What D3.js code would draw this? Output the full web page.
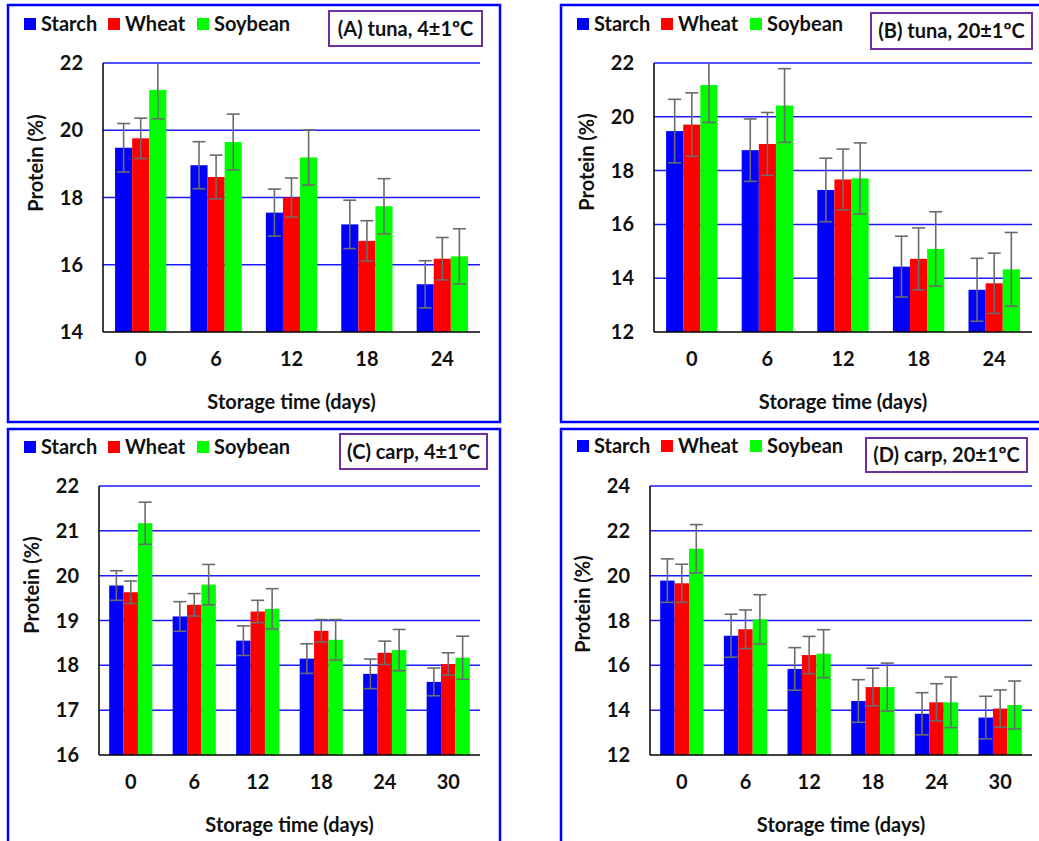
<!DOCTYPE html>
<html lang="en">
<head>
<meta charset="UTF-8">
<title>Protein during storage</title>
<script src="https://d3js.org/d3.v7.min.js"></script>
<style>
body { margin: 0; background: #fff; }
svg { display: block; font-family: Lato, "Open Sans", sans-serif; font-weight: bold; }
</style>
</head>
<body>
<svg width="1039" height="841"></svg>
<script>
// series and categories
const seriesNames = ["Starch", "Wheat", "Soybean"];
const seriesColors = ["#0000ff", "#ff0000", "#00ff00"];
const tunaDays = ["0", "6", "12", "18", "24"];
const carpDays = ["0", "6", "12", "18", "24", "30"];

// (A) tuna, 4 C
const starchA = [19.48, 18.96, 17.55, 17.20, 15.42];
const wheatA  = [19.76, 18.61, 18.00, 16.71, 16.18];
const soyA    = [21.20, 19.65, 19.19, 17.74, 16.25];
const starchErrA = [0.72, 0.70, 0.70, 0.72, 0.70];
const wheatErrA  = [0.60, 0.65, 0.58, 0.60, 0.63];
const soyErrA    = [0.86, 0.83, 0.82, 0.82, 0.82];
const ticksA = [14, 16, 18, 20, 22];

// (B) tuna, 20 C
const starchB = [19.47, 18.76, 17.28, 14.43, 13.57];
const wheatB  = [19.71, 18.99, 17.67, 14.72, 13.81];
const soyB    = [21.18, 20.42, 17.71, 15.09, 14.33];
const starchErrB = [1.18, 1.16, 1.18, 1.13, 1.17];
const wheatErrB  = [1.18, 1.17, 1.13, 1.15, 1.12];
const soyErrB    = [1.39, 1.37, 1.32, 1.38, 1.37];
const ticksB = [12, 14, 16, 18, 20, 22];

// (C) carp, 4 C
const starchC = [19.78, 19.09, 18.55, 18.15, 17.81, 17.63];
const wheatC  = [19.63, 19.35, 19.20, 18.77, 18.28, 18.03];
const soyC    = [21.17, 19.80, 19.26, 18.57, 18.34, 18.17];
const starchErrC = [0.33, 0.33, 0.33, 0.33, 0.33, 0.31];
const wheatErrC  = [0.25, 0.25, 0.25, 0.25, 0.26, 0.25];
const soyErrC    = [0.47, 0.45, 0.45, 0.45, 0.46, 0.48];
const ticksC = [16, 17, 18, 19, 20, 21, 22];

// (D) carp, 20 C
const starchD = [19.78, 17.32, 15.84, 14.41, 13.84, 13.67];
const wheatD  = [19.66, 17.61, 16.46, 15.03, 14.35, 14.07];
const soyD    = [21.20, 18.05, 16.52, 15.03, 14.35, 14.23];
const starchErrD = [0.97, 0.96, 0.95, 0.95, 0.94, 0.95];
const wheatErrD  = [0.85, 0.86, 0.83, 0.84, 0.83, 0.83];
const soyErrD    = [1.08, 1.10, 1.07, 1.07, 1.13, 1.07];
const ticksD = [12, 14, 16, 18, 20, 22, 24];

const panels = [
  { title: "(A) tuna, 4±1ºC", days: tunaDays, values: [starchA, wheatA, soyA], errs: [starchErrA, wheatErrA, soyErrA],
    ticks: ticksA, border: [8, 5, 492, 417], plot: [103, 63, 480, 332], titleBox: [329, 11, 153, 35],
    legend: [24, 18], yTitleY: 163 },
  { title: "(B) tuna, 20±1ºC", days: tunaDays, values: [starchB, wheatB, soyB], errs: [starchErrB, wheatErrB, soyErrB],
    ticks: ticksB, border: [561, 5, 500, 417], plot: [654, 63, 1032, 332], titleBox: [871, 13, 161, 36],
    legend: [577, 18], yTitleY: 162 },
  { title: "(C) carp, 4±1ºC", days: carpDays, values: [starchC, wheatC, soyC], errs: [starchErrC, wheatErrC, soyErrC],
    ticks: ticksC, border: [8, 429, 492, 430], plot: [99, 486, 480, 755], titleBox: [340, 434, 147, 35],
    legend: [24, 441], yTitleY: 585 },
  { title: "(D) carp, 20±1ºC", days: carpDays, values: [starchD, wheatD, soyD], errs: [starchErrD, wheatErrD, soyErrD],
    ticks: ticksD, border: [561, 429, 500, 430], plot: [650, 486, 1032, 755], titleBox: [866, 438, 161, 34],
    legend: [577, 440], yTitleY: 604 }
];

const fontSize = 20;
const svg = d3.select("svg");
svg.append("rect").attr("width", 1039).attr("height", 841).attr("fill", "#fff");

panels.forEach(function(p, pi) {
  const g = svg.append("g");
  const [left, top, right, bottom] = p.plot;

  // outer frame
  g.append("rect")
    .attr("x", p.border[0]).attr("y", p.border[1])
    .attr("width", p.border[2]).attr("height", p.border[3])
    .attr("fill", "none").attr("stroke", "#0000ff").attr("stroke-width", 2.5);

  const y = d3.scaleLinear().domain(d3.extent(p.ticks)).range([bottom, top]);
  const x0 = d3.scaleBand().domain(p.days).range([left, right]).paddingInner(0.32).paddingOuter(0.16);
  const x1 = d3.scaleBand().domain(seriesNames).range([0, x0.bandwidth()]);

  // gridlines
  g.append("g").selectAll("line")
    .data(p.ticks.slice(1))
    .enter().append("line")
      .attr("x1", left).attr("x2", right)
      .attr("y1", function(d) { return y(d); })
      .attr("y2", function(d) { return y(d); })
      .attr("stroke", "#1a1aff").attr("stroke-width", 1.5);

  // bars
  const rows = [];
  p.days.forEach(function(day, i) {
    seriesNames.forEach(function(s, k) {
      rows.push({ day: day, series: s, k: k, value: p.values[k][i], err: p.errs[k][i] });
    });
  });

  g.append("g").selectAll("rect")
    .data(rows)
    .enter().append("rect")
      .attr("x", function(d) { return x0(d.day) + x1(d.series); })
      .attr("y", function(d) { return y(d.value); })
      .attr("width", x1.bandwidth())
      .attr("height", function(d) { return bottom - y(d.value); })
      .attr("fill", function(d) { return seriesColors[d.k]; });

  // error bars, clipped to the plot area
  const clipId = "clip" + pi;
  g.append("clipPath").attr("id", clipId)
    .append("rect").attr("x", left).attr("y", top).attr("width", right - left).attr("height", bottom - top);

  const eb = g.append("g").attr("clip-path", "url(#" + clipId + ")")
    .attr("stroke", "#6b6b6b").attr("stroke-width", 1.6)
    .selectAll("g").data(rows).enter().append("g");
  const cx = function(d) { return x0(d.day) + x1(d.series) + x1.bandwidth() / 2; };
  eb.append("line")
    .attr("x1", cx).attr("x2", cx)
    .attr("y1", function(d) { return y(d.value + d.err); })
    .attr("y2", function(d) { return y(d.value - d.err); });
  [1, -1].forEach(function(sgn) {
    eb.append("line")
      .attr("x1", function(d) { return cx(d) - 6.5; })
      .attr("x2", function(d) { return cx(d) + 6.5; })
      .attr("y1", function(d) { return y(d.value + sgn * d.err); })
      .attr("y2", function(d) { return y(d.value + sgn * d.err); });
  });

  // axis lines
  g.append("line").attr("x1", left).attr("x2", left).attr("y1", top).attr("y2", bottom)
    .attr("stroke", "#000").attr("stroke-width", 1.5);
  g.append("line").attr("x1", left).attr("x2", right).attr("y1", bottom).attr("y2", bottom)
    .attr("stroke", "#000").attr("stroke-width", 1.5);

  // y tick labels
  g.append("g").selectAll("text")
    .data(p.ticks)
    .enter().append("text")
      .attr("x", left - 20)
      .attr("y", function(d) { return y(d); })
      .attr("dy", "0.35em")
      .attr("text-anchor", "end")
      .attr("font-size", fontSize)
      .attr("fill", "#111")
      .text(function(d) { return d; });

  // x tick labels
  g.append("g").selectAll("text")
    .data(p.days)
    .enter().append("text")
      .attr("x", function(d) { return x0(d) + x0.bandwidth() / 2; })
      .attr("y", bottom + 27)
      .attr("dy", "0.35em")
      .attr("text-anchor", "middle")
      .attr("font-size", fontSize)
      .attr("fill", "#111")
      .text(function(d) { return d; });

  // axis titles
  g.append("text")
    .attr("x", (left + right) / 2).attr("y", bottom + 70).attr("dy", "0.35em")
    .attr("text-anchor", "middle").attr("font-size", fontSize).attr("fill", "#111")
    .text("Storage time (days)");
  g.append("text")
    .attr("transform", "translate(" + (left - 67) + "," + p.yTitleY + ") rotate(-90)")
    .attr("dy", "0.35em")
    .attr("text-anchor", "middle").attr("font-size", fontSize).attr("fill", "#111")
    .text("Protein (%)");

  // legend
  const offs = [0, 84, 173];
  const leg = g.append("g").selectAll("g")
    .data(seriesNames)
    .enter().append("g")
      .attr("transform", function(d, i) { return "translate(" + (p.legend[0] + offs[i]) + "," + p.legend[1] + ")"; });
  leg.append("rect").attr("width", 12).attr("height", 12)
    .attr("fill", function(d, i) { return seriesColors[i]; });
  leg.append("text").attr("x", 17).attr("y", 6).attr("dy", "0.35em")
    .attr("font-size", fontSize).attr("fill", "#111")
    .text(function(d) { return d; });

  // panel title box
  const tb = p.titleBox;
  g.append("rect").attr("x", tb[0]).attr("y", tb[1]).attr("width", tb[2]).attr("height", tb[3])
    .attr("fill", "#fff").attr("stroke", "#7030a0").attr("stroke-width", 2);
  g.append("text")
    .attr("x", tb[0] + tb[2] / 2).attr("y", tb[1] + tb[3] / 2).attr("dy", "0.35em")
    .attr("text-anchor", "middle").attr("font-size", fontSize).attr("fill", "#111")
    .text(p.title);
});
</script>
</body>
</html>
